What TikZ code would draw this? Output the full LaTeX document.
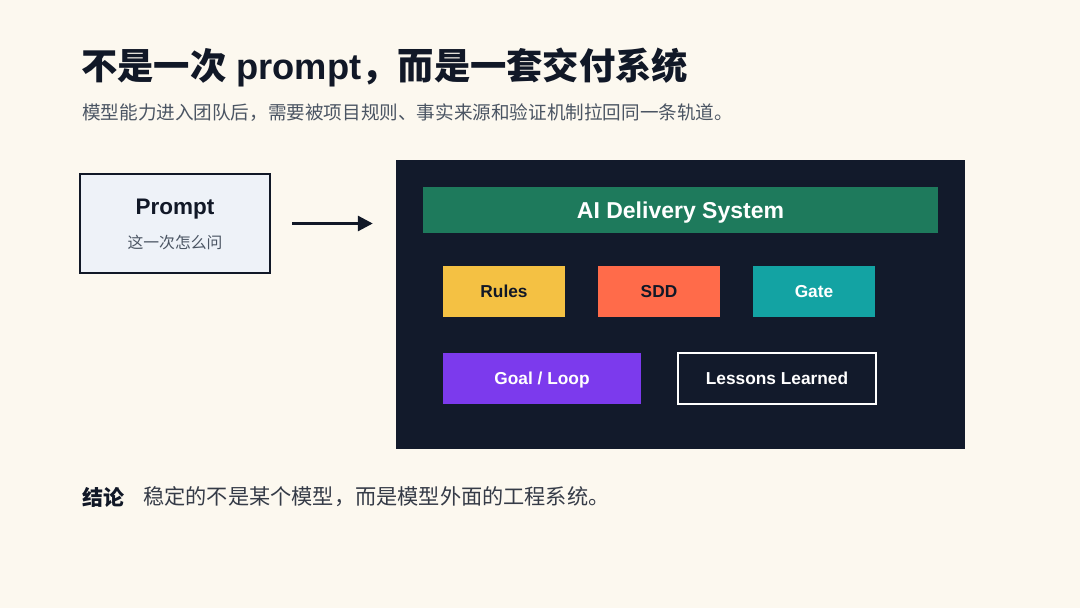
\documentclass[tikz,border=0pt]{standalone}
\usepackage{fontspec}
\setmainfont{Liberation Sans}
\newfontfamily\cjk{Noto Sans CJK SC}
\usetikzlibrary{shapes,arrows,arrows.meta}

\definecolor{paper}{HTML}{FCF8EF}
\definecolor{ink}{HTML}{111827}
\definecolor{subtext}{HTML}{4B5563}
\definecolor{prompt fill}{HTML}{EEF2F8}
\definecolor{night}{HTML}{121A2B}
\definecolor{system green}{HTML}{1E7A5C}
\definecolor{rules yellow}{HTML}{F4C143}
\definecolor{sdd coral}{HTML}{FF6B4A}
\definecolor{gate teal}{HTML}{13A3A3}
\definecolor{loop violet}{HTML}{7C3AED}

\begin{document}
\begin{tikzpicture}[x=1pt, y=-1pt]
		\tikzstyle {block} = [minimum width=122pt, minimum height=51pt, inner sep=0pt, text height=12.4pt, text depth=0pt, font=\fontsize{17.3}{20}\selectfont\bfseries]
		\tikzstyle {wide block} = [block, minimum width=198pt]
		\tikzstyle {line text} = [anchor=west, inner sep=0pt]

		\fill[paper] (0,0) rectangle (1080,608);
		\useasboundingbox (0,0) rectangle (1080,608);

		% heading
		\node[line text, text=ink, font=\fontsize{36.3}{42}\selectfont\bfseries] (title) at (81,67) {{\cjk 不是一次} prompt{\cjk ，而是一套交付系统}};
		\node[line text, text=subtext, font=\cjk\fontsize{18.6}{22}\selectfont] (subtitle) at (82,112.5) {模型能力进入团队后，需要被项目规则、事实来源和验证机制拉回同一条轨道。};

		% left: the single prompt
		\node[draw=ink, line width=2pt, fill=prompt fill, minimum width=190pt, minimum height=99pt] (prompt) at (175,223.5) {};
		\node[text=ink, font=\fontsize{22.5}{26}\selectfont\bfseries] (prompt name) at (175,209) {Prompt};
		\node[text=subtext, font=\cjk\fontsize{15.8}{18}\selectfont] (prompt note) at (175,242) {这一次怎么问};

		% right: the delivery system
		\node[fill=night, minimum width=569pt, minimum height=289pt] (system) at (680.5,304.5) {};
		\node[fill=system green, text=white, minimum width=515pt, minimum height=46pt, inner sep=0pt, text height=16.5pt, text depth=0pt, font=\fontsize{23}{26}\selectfont\bfseries] (system bar) at (680.5,210) {AI Delivery System};

		\node[block, fill=rules yellow, text=ink] (rules) at (504,291.5) {Rules};
		\node[block, fill=sdd coral, text=ink] (sdd) at (659,291.5) {SDD};
		\node[block, fill=gate teal, text=white] (gate) at (814,291.5) {Gate};

		\node[wide block, fill=loop violet, text=white] (loop) at (542,378) {Goal / Loop};
		\node[wide block, draw=white, line width=1.5pt, fill=night, text=white] (lessons) at (777,378.5) {Lessons Learned};

		\draw[-{Triangle[length=15pt, width=15pt]}, ink, line width=3pt, shorten <=21pt, shorten >=23pt] (prompt.east) -- (prompt.east -| system.west);

		% conclusion
		\node[line text, text=ink, font=\cjk\fontsize{21}{24}\selectfont\bfseries] (verdict label) at (82,497) {结论};
		\node[line text, text=ink!85!white, font=\cjk\fontsize{21.2}{24}\selectfont] (verdict) at (143,497) {稳定的不是某个模型，而是模型外面的工程系统。};
\end{tikzpicture}
\end{document}
